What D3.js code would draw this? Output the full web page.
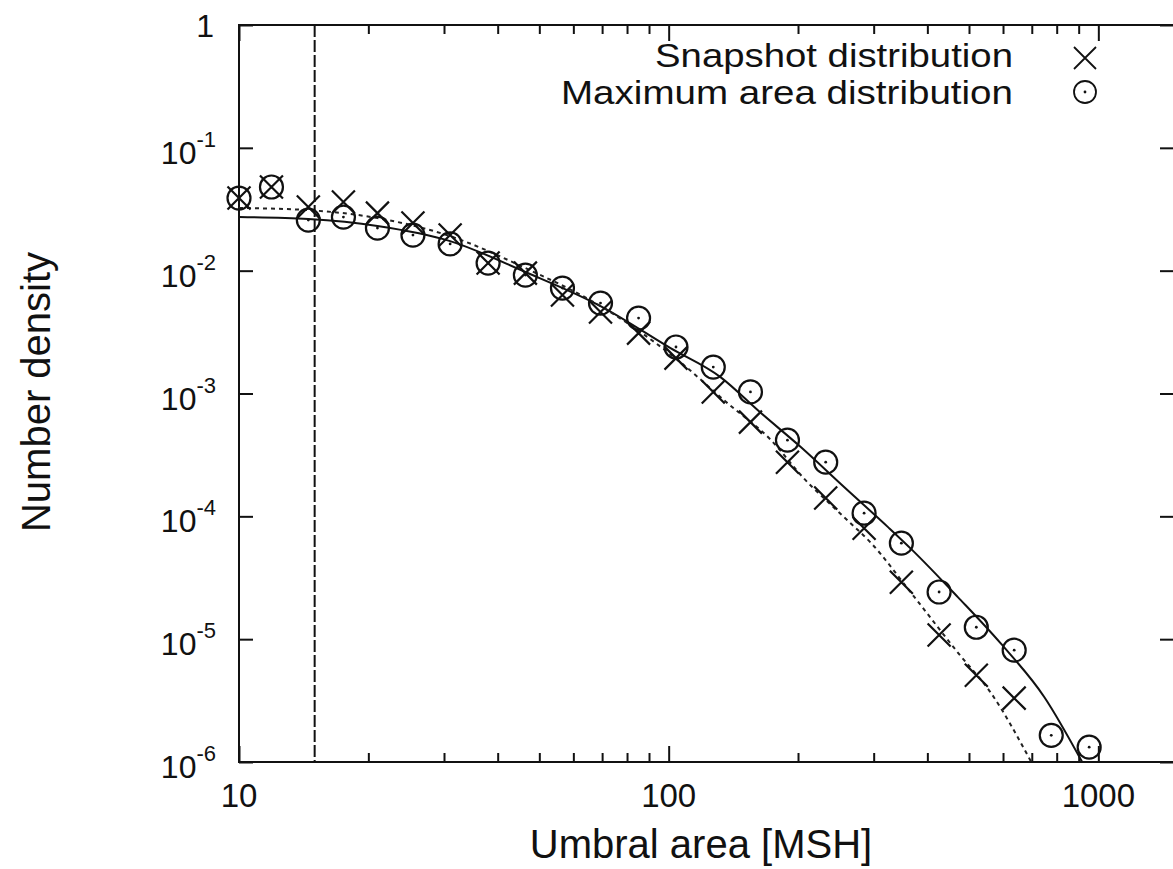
<!DOCTYPE html>
<html>
<head>
<meta charset="utf-8">
<script src="https://cdn.jsdelivr.net/npm/d3@7"></script>
<style>
  html, body { margin: 0; padding: 0; background: #fff; }
  svg { display: block; }
  text { font-family: "Liberation Sans", Arial, Helvetica, sans-serif; fill: #111; }
</style>
</head>
<body>
<svg id="chart" width="1173" height="869"></svg>
<script>
// ---------- data ----------
const areaBins = [10.0, 11.9, 14.5, 17.5, 21.0, 25.4, 31.0, 38.0, 46.4, 56.6, 69.4, 85.1,
                  104, 127, 155, 189, 232, 285, 348, 426, 520, 637, 777, 952];
const maxAreaDensity = [0.0390, 0.0480, 0.0258, 0.0273, 0.0222, 0.0195, 0.0165, 0.01153,
                        0.0092, 0.00722, 0.00545, 0.00411, 0.00239, 0.00164, 0.00103,
                        0.000417, 0.000276, 0.000106, 6.05e-5, 2.42e-5, 1.25e-5, 8.13e-6,
                        1.65e-6, 1.32e-6];
const snapshotDensity = [0.0390, 0.0480, 0.0330, 0.0362, 0.0294, 0.0244, 0.0195, 0.01153,
                         0.00955, 0.00633, 0.00460, 0.00310, 0.00194, 0.00103, 0.000585,
                         0.000276, 0.000141, 8.0e-5, 2.91e-5, 1.08e-5, 5.09e-6, 3.31e-6];

// fitted curves
const fitMaxAreaX = [10, 14.5, 21, 31, 46.4, 69.4, 101, 132, 163, 203, 256, 324, 369, 471, 592, 749, 917];
const fitMaxAreaY = [0.0273, 0.0263, 0.0231, 0.0174, 0.00975, 0.00515, 0.00234, 0.00136, 7.06e-4,
                     3.66e-4, 1.73e-4, 8.17e-5, 5.31e-5, 2.2e-5, 9.27e-6, 3.37e-6, 1.0e-6];
const fitSnapX = [10, 14.5, 21, 31, 46.4, 69.4, 105, 137, 173, 206, 256, 296, 367, 472, 563, 698];
const fitSnapY = [0.0324, 0.0311, 0.0268, 0.0191, 0.0105, 0.00515, 1.87e-3, 8.35e-4, 4.18e-4,
                  2.05e-4, 9.85e-5, 6.05e-5, 2.37e-5, 7.7e-6, 3.63e-6, 1.0e-6];

const thresholdArea = 15;

const xMajor = [10, 100, 1000];
const xMinor = [20, 30, 40, 50, 60, 70, 80, 90, 200, 300, 400, 500, 600, 700, 800, 900];
const yMajor = [1, 1e-1, 1e-2, 1e-3, 1e-4, 1e-5, 1e-6];
const yExponents = [0, -1, -2, -3, -4, -5, -6];
const xTickLabels = ["10", "100", "1000"];

const legendLabels = ["Snapshot distribution", "Maximum area distribution"];
const xTitle = "Umbral area [MSH]";
const yTitle = "Number density";

// ---------- layout ----------
const L = 239, R = 1174, T = 25, B = 762;
const svg = d3.select("#chart");
const x = d3.scaleLog().domain([10, 1500]).range([L, R]);
const y = d3.scaleLog().domain([1e-6, 1]).range([B, T]);

svg.append("defs").append("clipPath").attr("id", "clip")
  .append("rect").attr("x", L).attr("y", T).attr("width", R - L).attr("height", B - T);

// ---------- ticks via d3 axes ----------
function styleAxis(g) {
  g.select(".domain").remove();
  g.selectAll(".tick line").attr("stroke", "#111").attr("stroke-width", 2);
  g.selectAll(".tick text").remove();
}
svg.append("g").attr("transform", `translate(0,${B})`)
  .call(d3.axisBottom(x).tickValues(xMajor).tickSize(-16).tickFormat("")).call(styleAxis);
svg.append("g").attr("transform", `translate(0,${B})`)
  .call(d3.axisBottom(x).tickValues(xMinor).tickSize(-9).tickFormat("")).call(styleAxis);
svg.append("g").attr("transform", `translate(0,${T})`)
  .call(d3.axisTop(x).tickValues(xMajor).tickSize(-16).tickFormat("")).call(styleAxis);
svg.append("g").attr("transform", `translate(0,${T})`)
  .call(d3.axisTop(x).tickValues(xMinor).tickSize(-9).tickFormat("")).call(styleAxis);
svg.append("g").attr("transform", `translate(${L},0)`)
  .call(d3.axisLeft(y).tickValues(yMajor).tickSize(-14).tickFormat("")).call(styleAxis);
svg.append("g").attr("transform", `translate(${R},0)`)
  .call(d3.axisRight(y).tickValues(yMajor).tickSize(-14).tickFormat("")).call(styleAxis);

// frame
svg.append("rect").attr("x", L).attr("y", T).attr("width", R - L).attr("height", B - T)
  .attr("fill", "none").attr("stroke", "#111").attr("stroke-width", 2);

// x tick labels
svg.append("g").selectAll("text").data(xMajor).join("text")
  .attr("x", d => x(d)).attr("y", B + 45)
  .attr("text-anchor", "middle").attr("font-size", 33)
  .text((d, i) => xTickLabels[i]);

// y tick labels with superscripts
const yl = svg.append("g").selectAll("text").data(yMajor).join("text")
  .attr("x", 216).attr("y", d => y(d) + 16)
  .attr("text-anchor", "end").attr("font-size", 32);
yl.each(function(d, i) {
  const t = d3.select(this);
  if (yExponents[i] === 0) { t.text("1"); t.attr("x", 214).attr("y", y(d) + 12); return; }
  t.append("tspan").text("10");
  t.append("tspan").attr("dy", -17).attr("font-size", 22).text("-" + Math.abs(yExponents[i]));
});

// axis titles
svg.append("text").attr("x", 701).attr("y", 858).attr("text-anchor", "middle")
  .attr("font-size", 40).text(xTitle);
svg.append("text").attr("transform", "translate(50,392) rotate(-90)")
  .attr("text-anchor", "middle").attr("font-size", 40).text(yTitle);

// ---------- plot content ----------
const plot = svg.append("g").attr("clip-path", "url(#clip)");

// threshold line
plot.append("line")
  .attr("x1", x(thresholdArea)).attr("x2", x(thresholdArea))
  .attr("y1", T).attr("y2", B)
  .attr("stroke", "#111").attr("stroke-width", 2).attr("stroke-dasharray", "12,3");

const line = d3.line().x(d => x(d[0])).y(d => y(d[1])).curve(d3.curveMonotoneX);

plot.append("path").datum(fitMaxAreaX.map((v, i) => [v, fitMaxAreaY[i]]))
  .attr("d", line).attr("fill", "none").attr("stroke", "#111").attr("stroke-width", 2);
plot.append("path").datum(fitSnapX.map((v, i) => [v, fitSnapY[i]]))
  .attr("d", line).attr("fill", "none").attr("stroke", "#222").attr("stroke-width", 2)
  .attr("stroke-dasharray", "4,4");

const cs = 11.5; // cross half-size
const cr = 11.5; // circle radius

function drawCross(g, cx, cy, h, w) {
  g.append("path")
    .attr("d", `M${cx - h},${cy - h}L${cx + h},${cy + h}M${cx - h},${cy + h}L${cx + h},${cy - h}`)
    .attr("stroke", "#111").attr("stroke-width", w).attr("fill", "none");
}
function drawCircle(g, cx, cy, r, w) {
  g.append("circle").attr("cx", cx).attr("cy", cy).attr("r", r)
    .attr("fill", "none").attr("stroke", "#111").attr("stroke-width", w);
  g.append("circle").attr("cx", cx).attr("cy", cy).attr("r", 1.4).attr("fill", "#111");
}

const marks = svg.append("g");
snapshotDensity.forEach((v, i) => drawCross(marks, x(areaBins[i]), y(v), cs, 2.2));
maxAreaDensity.forEach((v, i) => drawCircle(marks, x(areaBins[i]), y(v), cr, 2.2));

// ---------- legend ----------
const lg = svg.append("g");
lg.append("text").attr("x", 1013).attr("y", 67).attr("text-anchor", "end")
  .attr("font-size", 33).attr("textLength", 358).attr("lengthAdjust", "spacingAndGlyphs")
  .text(legendLabels[0]);
lg.append("text").attr("x", 1013).attr("y", 104).attr("text-anchor", "end")
  .attr("font-size", 33).attr("textLength", 452).attr("lengthAdjust", "spacingAndGlyphs")
  .text(legendLabels[1]);
drawCross(lg, 1085, 58, 11, 1.8);
drawCircle(lg, 1085, 92, 11, 1.8);
</script>
</body>
</html>
